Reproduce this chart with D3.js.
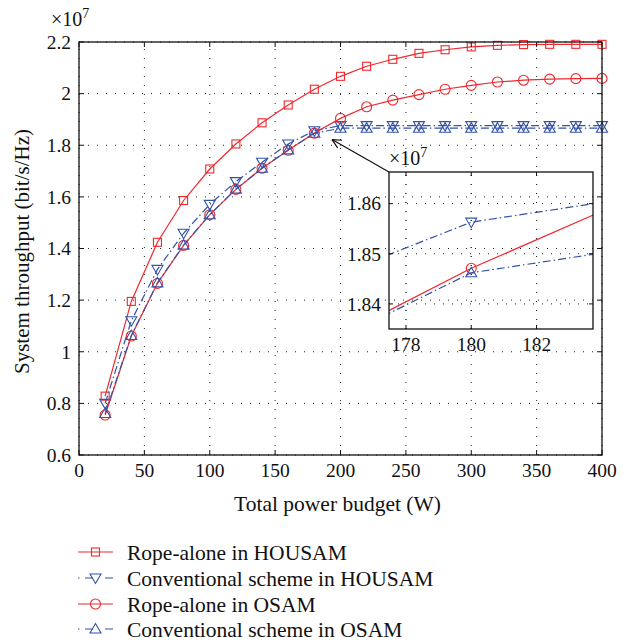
<!DOCTYPE html>
<html><head><meta charset="utf-8">
<script src="https://cdn.jsdelivr.net/npm/d3@7"></script>
<style>
html,body{margin:0;padding:0;background:#fff;}
text{font-family:"Liberation Serif","Times New Roman",serif;fill:#111;}
</style></head>
<body><svg id="chart" width="633" height="644"></svg>
<script>
// ---- data (throughput in units of 1e7 bit/s/Hz) ----
const powerBudget = [20,40,60,80,100,120,140,160,180,200,220,240,260,280,300,320,340,360,380,400];
const ropeHOUSAM = [0.828,1.195,1.424,1.586,1.708,1.805,1.887,1.956,2.017,2.067,2.106,2.133,2.156,2.170,2.181,2.187,2.190,2.191,2.191,2.191];
const convHOUSAM = [0.800,1.120,1.319,1.459,1.571,1.659,1.734,1.805,1.8563,1.876,1.876,1.876,1.876,1.876,1.876,1.876,1.876,1.876,1.876,1.876];
const ropeOSAM   = [0.755,1.061,1.265,1.412,1.531,1.629,1.711,1.7804,1.8471,1.904,1.949,1.975,1.996,2.017,2.032,2.045,2.052,2.056,2.058,2.059];
const convOSAM   = [0.761,1.063,1.267,1.413,1.531,1.630,1.711,1.782,1.8462,1.866,1.866,1.866,1.866,1.866,1.866,1.866,1.866,1.866,1.866,1.866];
const seriesNames = ["Rope-alone in HOUSAM","Conventional scheme in HOUSAM","Rope-alone in OSAM","Conventional scheme in OSAM"];
const xTicks = [0,50,100,150,200,250,300,350,400];
const yTicks = [0.6,0.8,1,1.2,1.4,1.6,1.8,2,2.2];
const yTickLabels = ["0.6","0.8","1","1.2","1.4","1.6","1.8","2","2.2"];
const insetXTicks = [178,180,182];
const insetYTicks = [1.84,1.85,1.86];
const insetYTickLabels = ["1.84","1.85","1.86"];

const RED = "#f0282d", BLUE = "#3352a8";
const DASHDOT = "8,3,1.5,3";
const series = [
  {name:seriesNames[0], values:ropeHOUSAM, color:RED, dash:null, marker:"square"},
  {name:seriesNames[1], values:convHOUSAM, color:BLUE, dash:DASHDOT, marker:"tridown"},
  {name:seriesNames[2], values:ropeOSAM, color:RED, dash:null, marker:"circle"},
  {name:seriesNames[3], values:convOSAM, color:BLUE, dash:DASHDOT, marker:"triup"}
];

const svg = d3.select("#chart");
const M = {left:79, top:42, width:523, height:413};
const x = d3.scaleLinear().domain([0,400]).range([M.left, M.left+M.width]);
const y = d3.scaleLinear().domain([0.6,2.2]).range([M.top+M.height, M.top]);

function drawMarker(g, type, cx, cy, color){
  if(type==="square"){
    g.append("rect").attr("x",cx-4).attr("y",cy-4).attr("width",8).attr("height",8)
      .attr("fill","none").attr("stroke",color).attr("stroke-width",1.1);
  } else if(type==="circle"){
    g.append("circle").attr("cx",cx).attr("cy",cy).attr("r",5)
      .attr("fill","none").attr("stroke",color).attr("stroke-width",1.1);
  } else if(type==="tridown"){
    g.append("path").attr("d",`M${cx-5.5},${cy-4}L${cx+5.5},${cy-4}L${cx},${cy+5.5}Z`)
      .attr("fill","none").attr("stroke",color).attr("stroke-width",1.1);
  } else {
    g.append("path").attr("d",`M${cx-5.5},${cy+4}L${cx+5.5},${cy+4}L${cx},${cy-5.5}Z`)
      .attr("fill","none").attr("stroke",color).attr("stroke-width",1.1);
  }
}

function gridAndAxes(g, xs, ys, xt, yt){
  const [x0,x1] = xs.range(), [y0,y1] = ys.range();
  g.selectAll(null).data(xt).enter().append("line")
    .attr("x1",d=>xs(d)).attr("x2",d=>xs(d)).attr("y1",y0).attr("y2",y1)
    .attr("stroke","#222").attr("stroke-width",1).attr("stroke-dasharray","1,8");
  g.selectAll(null).data(yt).enter().append("line")
    .attr("x1",x0).attr("x2",x1).attr("y1",d=>ys(d)).attr("y2",d=>ys(d))
    .attr("stroke","#222").attr("stroke-width",1).attr("stroke-dasharray","1,8");
}

function axesBox(g, xs, ys, xt, yt, ytl, fs, tl){
  const [x0,x1] = xs.range(), [y0,y1] = ys.range();
  xt.forEach(d=>{
    g.append("line").attr("x1",xs(d)).attr("x2",xs(d)).attr("y1",y0).attr("y2",y0-tl).attr("stroke","#111");
    g.append("line").attr("x1",xs(d)).attr("x2",xs(d)).attr("y1",y1).attr("y2",y1+tl).attr("stroke","#111");
  });
  yt.forEach(d=>{
    g.append("line").attr("x1",x0).attr("x2",x0+tl).attr("y1",ys(d)).attr("y2",ys(d)).attr("stroke","#111");
    g.append("line").attr("x1",x1).attr("x2",x1-tl).attr("y1",ys(d)).attr("y2",ys(d)).attr("stroke","#111");
  });
  g.append("rect").attr("x",x0).attr("y",y1).attr("width",x1-x0).attr("height",y0-y1)
    .attr("fill","none").attr("stroke","#111").attr("stroke-width",1.3);
  g.selectAll(null).data(xt).enter().append("text")
    .attr("x",d=>xs(d)).attr("y",y0+22).attr("text-anchor","middle")
    .attr("font-size",fs).text(d=>d);
  g.selectAll(null).data(yt).enter().append("text")
    .attr("x",x0-8).attr("y",d=>ys(d)).attr("dy","0.35em").attr("text-anchor","end")
    .attr("font-size",fs).text((d,i)=>ytl[i]);
}

// main
const main = svg.append("g");
gridAndAxes(main, x, y, xTicks, yTicks);
series.forEach(s=>{
  const line = d3.line().x((d,i)=>x(powerBudget[i])).y(d=>y(d));
  main.append("path").datum(s.values).attr("d",line).attr("fill","none")
    .attr("stroke",s.color).attr("stroke-width",1.2)
    .attr("stroke-dasharray",s.dash);
  s.values.forEach((v,i)=>drawMarker(main, s.marker, x(powerBudget[i]), y(v), s.color));
});
axesBox(main, x, y, xTicks, yTicks, yTickLabels, 19.5, 5);

// exponent
const ex = main.append("text").attr("x",51).attr("y",26).attr("font-size",20);
ex.append("tspan").text("×10");
ex.append("tspan").attr("dy",-8).attr("font-size",14).text("7");

// axis titles
svg.append("text").attr("x",x(200)-3).attr("y",511).attr("text-anchor","middle")
  .attr("font-size",21.5).text("Total power budget (W)");
svg.append("text").attr("transform",`translate(29,${y(1.4)+3}) rotate(-90)`)
  .attr("text-anchor","middle").attr("font-size",21).text("System throughput (bit/s/Hz)");

// inset
const IN = {left:389, top:172, width:204, height:157};
const xi = d3.scaleLinear().domain([177.48,183.73]).range([IN.left, IN.left+IN.width]);
const yi = d3.scaleLinear().domain([1.835,1.8663]).range([IN.top+IN.height, IN.top]);
const inset = svg.append("g");
svg.append("defs").append("clipPath").attr("id","insetClip")
  .append("rect").attr("x",IN.left).attr("y",IN.top).attr("width",IN.width).attr("height",IN.height);
gridAndAxes(inset, xi, yi, insetXTicks, insetYTicks);
const insetData = inset.append("g").attr("clip-path","url(#insetClip)");
series.forEach(s=>{
  const line = d3.line().x((d,i)=>xi(powerBudget[i])).y(d=>yi(d));
  insetData.append("path").datum(s.values).attr("d",line).attr("fill","none")
    .attr("stroke",s.color).attr("stroke-width",1.2)
    .attr("stroke-dasharray",s.dash);
  s.values.forEach((v,i)=>{
    if(powerBudget[i]>=177 && powerBudget[i]<=184) drawMarker(insetData, s.marker, xi(powerBudget[i]), yi(v), s.color);
  });
});
axesBox(inset, xi, yi, insetXTicks, insetYTicks, insetYTickLabels, 19.5, 4);
const ex2 = inset.append("text").attr("x",389).attr("y",165).attr("font-size",20);
ex2.append("tspan").text("×10");
ex2.append("tspan").attr("dy",-8).attr("font-size",14).text("7");

// arrow from inset corner to curve region
const tipX = x(193.5), tipY = y(1.822);
svg.append("line").attr("x1",IN.left).attr("y1",IN.top).attr("x2",tipX).attr("y2",tipY)
  .attr("stroke","#111").attr("stroke-width",1.2);
const ang = Math.atan2(IN.top-tipY, IN.left-tipX);
[0.45,-0.45].forEach(a=>{
  svg.append("line").attr("x1",tipX).attr("y1",tipY)
    .attr("x2",tipX+10*Math.cos(ang+a)).attr("y2",tipY+10*Math.sin(ang+a))
    .attr("stroke","#111").attr("stroke-width",1.2);
});

// legend
const legY = [552,578,604,629];
const leg = svg.append("g");
series.forEach((s,i)=>{
  const ly = legY[i];
  if(s.dash){
    leg.append("line").attr("x1",78).attr("x2",79.5).attr("y1",ly).attr("y2",ly).attr("stroke",s.color).attr("stroke-width",1.2);
    leg.append("line").attr("x1",85).attr("x2",113).attr("y1",ly).attr("y2",ly).attr("stroke",s.color).attr("stroke-width",1.2)
      .attr("stroke-dasharray","8,12");
  } else {
    leg.append("line").attr("x1",78).attr("x2",113).attr("y1",ly).attr("y2",ly).attr("stroke",s.color).attr("stroke-width",1.2);
  }
  drawMarker(leg, s.marker, 95.5, ly, s.color);
  leg.append("text").attr("x",127).attr("y",ly).attr("dy","0.35em").attr("font-size",21.5).text(s.name);
});
</script></body></html>
